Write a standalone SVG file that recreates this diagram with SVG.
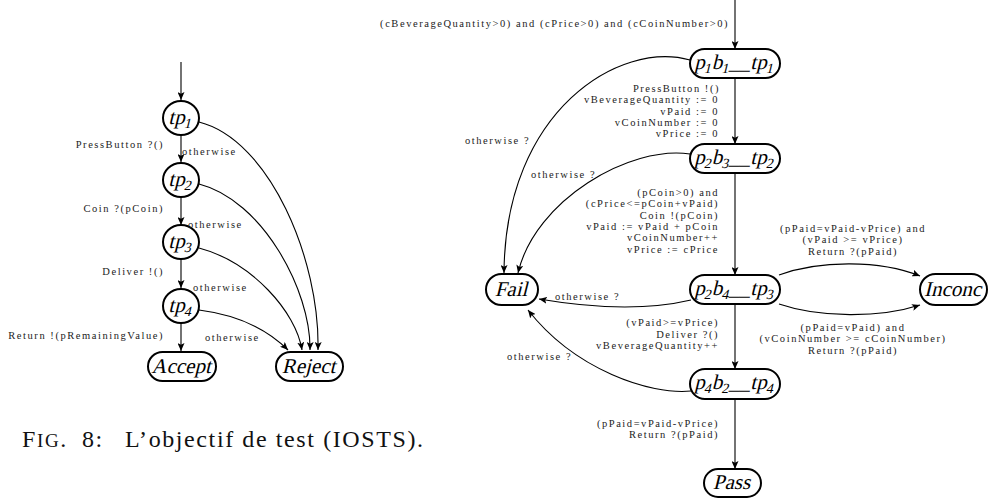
<svg xmlns="http://www.w3.org/2000/svg" width="989" height="499" viewBox="0 0 989 499">
<defs>
<marker id="ah" markerWidth="9" markerHeight="7" refX="8" refY="3.5" orient="auto" markerUnits="userSpaceOnUse">
<path d="M0,0 L8,3.5 L0,7 L1.8,3.5 z" fill="#000"/>
</marker>
<style>
.node{fill:#fff;stroke:#000;stroke-width:2}
.edge{fill:none;stroke:#000;stroke-width:1.1;marker-end:url(#ah)}
.nl{font-family:'Liberation Serif',serif;font-size:21px;text-anchor:middle;fill:#000}
.lb{font-family:'Liberation Serif',serif;font-size:10.5px;letter-spacing:1.55px;fill:#222}
.r{text-anchor:end}
.m{text-anchor:middle}
.cap{font-family:'Liberation Serif',serif;font-size:24px;letter-spacing:1.6px;fill:#111}
</style>
</defs>
<rect width="989" height="499" fill="#fff"/>

<!-- connectors -->
<g id="connectors">
<path class="edge" d="M181,62 L181,100"/>
<path class="edge" d="M181,135 L181,162"/>
<path class="edge" d="M181,197 L181,225"/>
<path class="edge" d="M181,259 L181,288"/>
<path class="edge" d="M181,323 L181,351"/>
<path class="edge" d="M199,122 C270,140 320,260 318,350"/>
<path class="edge" d="M199,184 C262,200 311,290 310,350"/>
<path class="edge" d="M199,248 C252,262 296,312 302,350"/>
<path class="edge" d="M199,310 C238,315 268,330 288,350"/>
<path class="edge" d="M735,0 L735,49"/>
<path class="edge" d="M735,78 L735,144"/>
<path class="edge" d="M735,173 L735,275"/>
<path class="edge" d="M735,304 L735,369"/>
<path class="edge" d="M735,399 L735,469"/>
<path class="edge" d="M690,60 C620,40 505,110 504,273"/>
<path class="edge" d="M690,154 C630,145 535,200 518,273"/>
<path class="edge" d="M691,300 C640,312 580,306 539,299"/>
<path class="edge" d="M691,391 C650,395 575,370 528,310"/>
<path class="edge" d="M779,275 C820,260 880,260 920,276"/>
<path class="edge" d="M779,304 C820,318 880,318 920,305"/>
</g>

<g id="tp1"><ellipse class="node" cx="181" cy="118" rx="18" ry="17"/><text class="nl" transform="translate(180,124) skewX(-14)">tp<tspan font-size="14" dy="4">1</tspan></text></g>
<g id="tp2"><ellipse class="node" cx="181" cy="180" rx="18" ry="17"/><text class="nl" transform="translate(180,186) skewX(-14)">tp<tspan font-size="14" dy="4">2</tspan></text></g>
<g id="tp3"><ellipse class="node" cx="181" cy="242" rx="18" ry="17"/><text class="nl" transform="translate(180,248) skewX(-14)">tp<tspan font-size="14" dy="4">3</tspan></text></g>
<g id="tp4"><ellipse class="node" cx="181" cy="306" rx="18" ry="17"/><text class="nl" transform="translate(180,312) skewX(-14)">tp<tspan font-size="14" dy="4">4</tspan></text></g>
<g id="accept"><rect class="node" x="148" y="352" width="68" height="29" rx="14.5"/><text class="nl" transform="translate(181,373) skewX(-14)">Accept</text></g>
<g id="reject"><rect class="node" x="276" y="352" width="67" height="29" rx="14.5"/><text class="nl" transform="translate(308.5,373) skewX(-14)">Reject</text></g>

<g id="left-labels">
<text class="lb r" x="164" y="148">PressButton ?()</text>
<text class="lb r" x="164" y="212">Coin ?(pCoin)</text>
<text class="lb r" x="164" y="275">Deliver !()</text>
<text class="lb r" x="164" y="339">Return !(pRemainingValue)</text>
<text class="lb" x="182" y="155">otherwise</text>
<text class="lb" x="188" y="228">otherwise</text>
<text class="lb" x="193" y="291">otherwise</text>
<text class="lb" x="205" y="341">otherwise</text>
</g>

<g id="p1b1_tp1"><rect class="node" x="690" y="49" width="90" height="29" rx="14.5"/><text class="nl" transform="translate(734,69) skewX(-14)">p<tspan font-size="14" dy="4">1</tspan><tspan dy="-4">b</tspan><tspan font-size="14" dy="4">1</tspan><tspan dy="-4">__tp</tspan><tspan font-size="14" dy="4">1</tspan></text></g>
<g id="p2b3_tp2"><rect class="node" x="690" y="144" width="90" height="29" rx="14.5"/><text class="nl" transform="translate(734,164) skewX(-14)">p<tspan font-size="14" dy="4">2</tspan><tspan dy="-4">b</tspan><tspan font-size="14" dy="4">3</tspan><tspan dy="-4">__tp</tspan><tspan font-size="14" dy="4">2</tspan></text></g>
<g id="p2b4_tp3"><rect class="node" x="690" y="275" width="90" height="29" rx="14.5"/><text class="nl" transform="translate(734,295) skewX(-14)">p<tspan font-size="14" dy="4">2</tspan><tspan dy="-4">b</tspan><tspan font-size="14" dy="4">4</tspan><tspan dy="-4">__tp</tspan><tspan font-size="14" dy="4">3</tspan></text></g>
<g id="p4b2_tp4"><rect class="node" x="690" y="369" width="90" height="30" rx="15"/><text class="nl" transform="translate(734,389) skewX(-14)">p<tspan font-size="14" dy="4">4</tspan><tspan dy="-4">b</tspan><tspan font-size="14" dy="4">2</tspan><tspan dy="-4">__tp</tspan><tspan font-size="14" dy="4">4</tspan></text></g>
<g id="pass"><rect class="node" x="704" y="469" width="57" height="28" rx="14"/><text class="nl" transform="translate(731.5,489) skewX(-14)">Pass</text></g>
<g id="fail"><rect class="node" x="486" y="274" width="52" height="31" rx="15.5"/><text class="nl" transform="translate(511,296) skewX(-14)">Fail</text></g>
<g id="inconc"><rect class="node" x="920" y="274" width="67" height="31" rx="15.5"/><text class="nl" transform="translate(952.5,296) skewX(-14)">Inconc</text></g>

<g id="right-labels">
<text class="lb r" x="729" y="27">(cBeverageQuantity&gt;0) and (cPrice&gt;0) and (cCoinNumber&gt;0)</text>
<text class="lb r" x="720" y="92">PressButton !()</text>
<text class="lb r" x="719" y="103">vBeverageQuantity := 0</text>
<text class="lb r" x="719" y="114.5">vPaid := 0</text>
<text class="lb r" x="719" y="126">vCoinNumber := 0</text>
<text class="lb r" x="719" y="137">vPrice := 0</text>
<text class="lb" x="465" y="144">otherwise ?</text>
<text class="lb" x="531" y="178">otherwise ?</text>
<text class="lb r" x="719" y="196">(pCoin&gt;0) and</text>
<text class="lb r" x="719" y="207">(cPrice&lt;=pCoin+vPaid)</text>
<text class="lb r" x="719" y="218.5">Coin !(pCoin)</text>
<text class="lb r" x="719" y="229.5">vPaid := vPaid + pCoin</text>
<text class="lb r" x="719" y="241">vCoinNumber++</text>
<text class="lb r" x="719" y="252.5">vPrice := cPrice</text>
<text class="lb" x="555" y="300">otherwise ?</text>
<text class="lb r" x="719" y="326">(vPaid&gt;=vPrice)</text>
<text class="lb r" x="719" y="337.5">Deliver ?()</text>
<text class="lb r" x="719" y="348.5">vBeverageQuantity++</text>
<text class="lb" x="507" y="360">otherwise ?</text>
<text class="lb r" x="719" y="427">(pPaid=vPaid-vPrice)</text>
<text class="lb r" x="719" y="438">Return ?(pPaid)</text>
<text class="lb m" x="853" y="232">(pPaid=vPaid-vPrice) and</text>
<text class="lb m" x="853" y="243">(vPaid &gt;= vPrice)</text>
<text class="lb m" x="853" y="254.5">Return ?(pPaid)</text>
<text class="lb m" x="853" y="331">(pPaid=vPaid) and</text>
<text class="lb m" x="853" y="342">(vCoinNumber &gt;= cCoinNumber)</text>
<text class="lb m" x="853" y="353.5">Return ?(pPaid)</text>
</g>

<text class="cap" x="22" y="447">F<tspan font-size="19">IG</tspan>.<tspan x="82">8:</tspan><tspan x="125">L’objectif de test (IOSTS).</tspan></text>
</svg>
